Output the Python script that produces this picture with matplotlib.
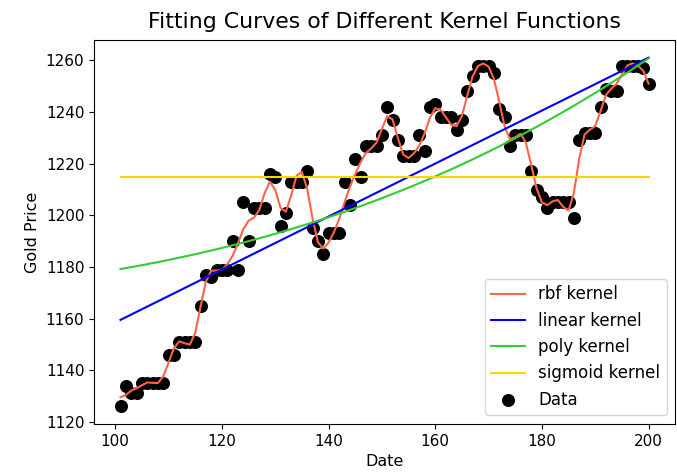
import numpy as np
import matplotlib
matplotlib.use('Agg')
import matplotlib.pyplot as plt

# Daily gold price samples (day index vs price)
dates = np.arange(101, 201)
prices = np.array([
    1126, 1134, 1131, 1131, 1135, 1135, 1135, 1135, 1135, 1146,
    1146, 1151, 1151, 1151, 1151, 1165, 1177, 1176, 1179, 1179,
    1179, 1190, 1179, 1205, 1190, 1203, 1203, 1203, 1216, 1215,
    1196, 1201, 1213, 1213, 1213, 1217, 1195, 1190, 1185, 1193,
    1193, 1193, 1213, 1204, 1222, 1215, 1227, 1227, 1227, 1231,
    1242, 1237, 1229, 1223, 1223, 1223, 1231, 1225, 1242, 1243,
    1238, 1238, 1238, 1233, 1237, 1248, 1254, 1258, 1258, 1258,
    1255, 1241, 1238, 1227, 1231, 1231, 1231, 1217, 1210, 1207,
    1203, 1205, 1205, 1205, 1205, 1199, 1229, 1232, 1232, 1232,
    1242, 1249, 1248, 1248, 1258, 1258, 1258, 1258, 1257, 1251,
], dtype=float)

x = dates.astype(float)
y = prices


# least absolute deviation fit (what an SVR with large C / small epsilon tends to)
def l1_fit(A, y, n_iter=200):
    coef = np.linalg.lstsq(A, y, rcond=None)[0]
    for _ in range(n_iter):
        r = np.abs(y - A @ coef)
        w = 1.0 / np.maximum(r, 1e-3)
        Aw = A * w[:, None]
        coef = np.linalg.solve(A.T @ Aw, Aw.T @ y)
    return A @ coef


# rbf kernel: kernel ridge regression with a gaussian kernel
def rbf_fit(x, y, gamma=0.1, alpha=0.02):
    K = np.exp(-gamma * (x[:, None] - x[None, :]) ** 2)
    b = np.median(y)
    coef = np.linalg.solve(K + alpha * np.eye(len(x)), y - b)
    return K @ coef + b


y_rbf = rbf_fit(x, y)

# linear kernel
y_lin = l1_fit(np.column_stack([np.ones_like(x), x]), y)

# poly kernel (degree 3, no coef0): y = a + c * x^3
xs = x / 100.0
y_poly = l1_fit(np.column_stack([np.ones_like(x), xs ** 3]), y)

# sigmoid kernel ends up as a flat line
y_sig = np.full_like(x, np.median(y))

fig = plt.figure(figsize=(6.77, 4.73), dpi=100)
ax = fig.add_axes([0.139, 0.104, 0.858, 0.811])
ax.plot(x, y_rbf, color='tomato', label='rbf kernel')
ax.plot(x, y_lin, color='blue', label='linear kernel')
ax.plot(x, y_poly, color='limegreen', label='poly kernel')
ax.plot(x, y_sig, color='gold', label='sigmoid kernel')
ax.scatter(x, y, color='black', s=70, label='Data')

ax.set_title('Fitting Curves of Different Kernel Functions', fontsize=15.8, pad=9)
ax.set_xlabel('Date', fontsize=11.5)
ax.set_ylabel('Gold Price', fontsize=11.5)
ax.tick_params(labelsize=11)
ax.legend(loc='lower right', fontsize=12)

fig.savefig('out.png', dpi=100)
